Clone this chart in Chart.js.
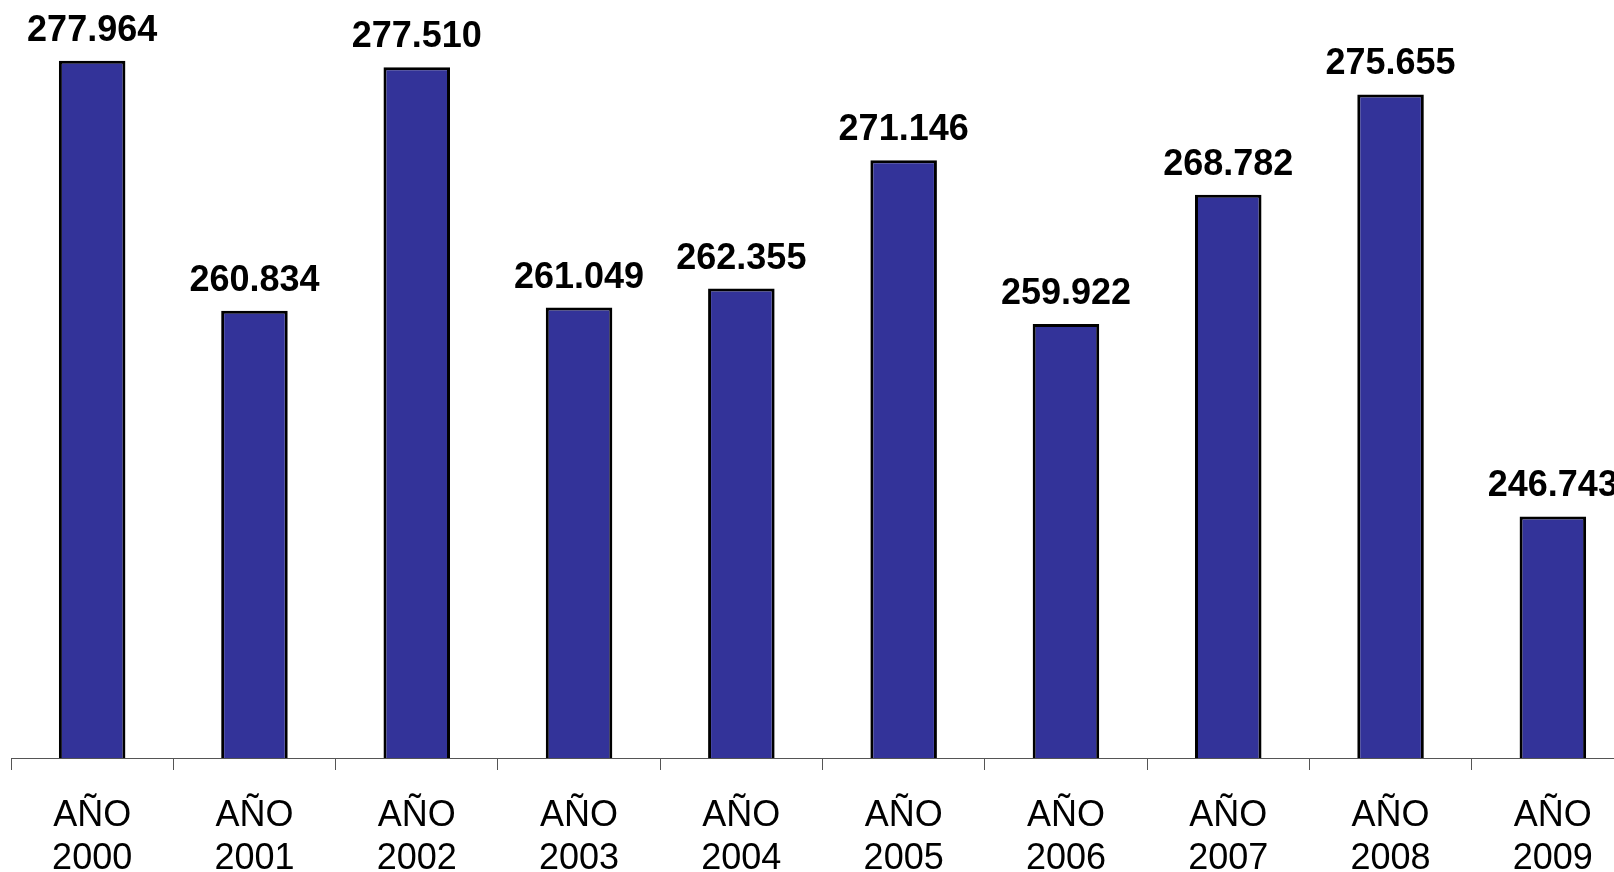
<!DOCTYPE html>
<html>
<head>
<meta charset="utf-8">
<script src="https://cdn.jsdelivr.net/npm/chart.js@4.4.0/dist/chart.umd.min.js"></script>
<style>
  html, body { margin: 0; padding: 0; background: #fff; overflow: hidden; }
  #wrap { width: 1614px; height: 872px; overflow: hidden; }
</style>
</head>
<body>
<div id="wrap"><canvas id="chart" width="1640" height="872"></canvas></div>
<script>
const years = ["2000", "2001", "2002", "2003", "2004", "2005", "2006", "2007", "2008", "2009"]
const totals = [277964, 260834, 277510, 261049, 262355, 271146, 259922, 268782, 275655, 246743]
const yMin = 230190
const yMax = 280000

// 277964 -> "277.964"
const fmt = (v) => String(v).replace(/\B(?=(\d{3})+(?!\d))/g, ".")

const valueLabels = {
  id: "valueLabels",
  afterDatasetsDraw(chart) {
    const ctx = chart.ctx
    const meta = chart.getDatasetMeta(0)
    ctx.save()
    ctx.font = "bold 36px 'Liberation Sans', Arial, sans-serif"
    ctx.fillStyle = "#000"
    ctx.textAlign = "center"
    ctx.textBaseline = "alphabetic"
    meta.data.forEach((bar, i) => {
      ctx.fillText(fmt(totals[i]), bar.x, bar.y - 20)
    })
    ctx.restore()
  }
}

new Chart(document.getElementById("chart"), {
  type: "bar",
  data: {
    labels: years.map((y) => ["AÑO", y]),
    datasets: [
      {
        data: totals,
        backgroundColor: "#333399",
        borderColor: "#000000",
        borderWidth: 3,
        borderSkipped: false,
        barPercentage: 0.41,
        categoryPercentage: 1.0,
      },
    ],
  },
  options: {
    responsive: false,
    animation: false,
    devicePixelRatio: 1,
    layout: { padding: { left: 11, top: 31, right: 6, bottom: 0 } },
    plugins: {
      legend: { display: false },
      tooltip: { enabled: false },
    },
    scales: {
      y: {
        display: false,
        min: yMin,
        max: yMax,
      },
      x: {
        offset: true,
        afterFit: (scale) => { scale.height = 114 },
        border: { display: true, color: "#555555", width: 1 },
        grid: {
          display: true,
          offset: true,
          drawOnChartArea: false,
          drawTicks: true,
          tickLength: 12,
          color: "#555555",
          lineWidth: 1,
        },
        ticks: {
          color: "#000",
          padding: 24,
          maxRotation: 0,
          autoSkip: false,
          font: { family: "'Liberation Sans', Arial, sans-serif", size: 36, lineHeight: 1.2 },
        },
      },
    },
  },
  plugins: [valueLabels],
})
</script>
</body>
</html>
